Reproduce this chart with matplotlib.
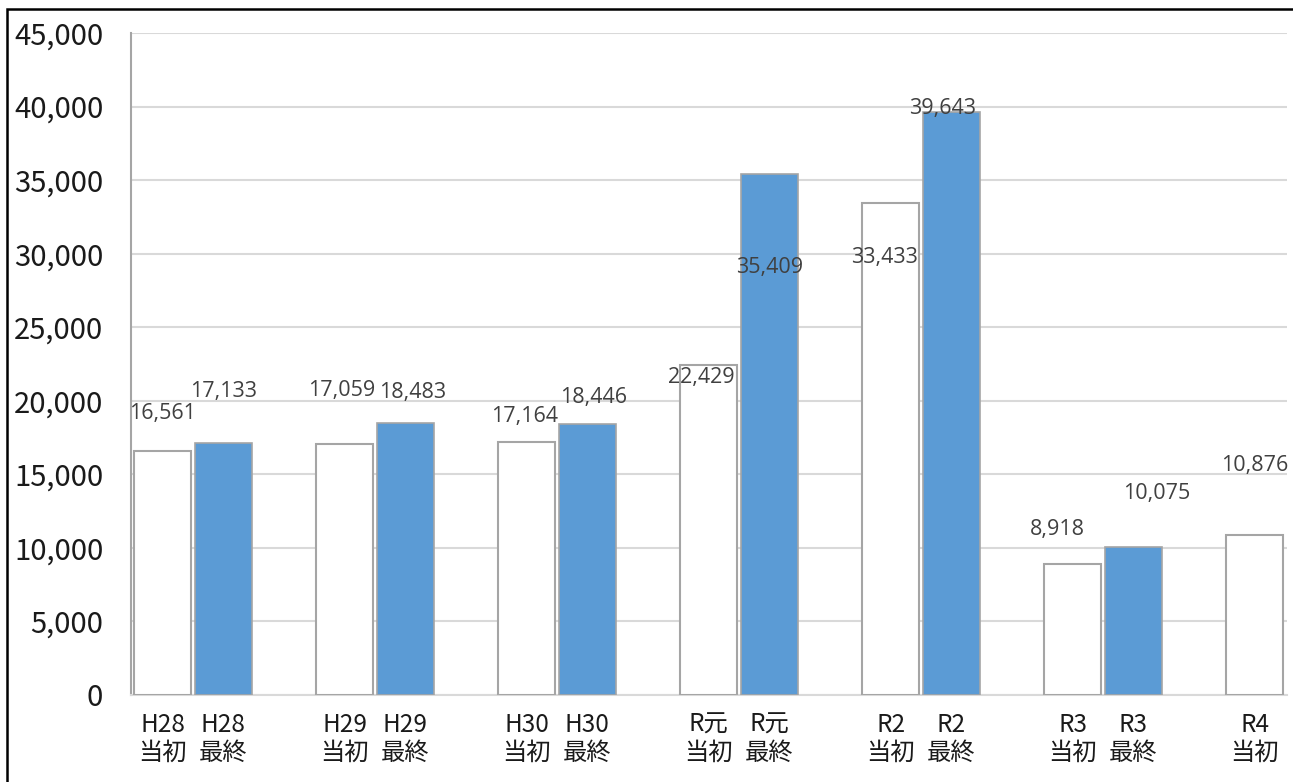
import matplotlib
matplotlib.use("Agg")
import matplotlib.pyplot as plt
from matplotlib.patches import Rectangle

# data
years = ["H28", "H29", "H30", "R元", "R2", "R3", "R4"]
initial = [16561, 17059, 17164, 22429, 33433, 8918, 10876]   # 当初
final = [17133, 18483, 18446, 35409, 39643, 10075, None]     # 最終
yticks = list(range(0, 45001, 5000))

# label offsets in pixels (dx, dy from bar top), hand placed like the original
off_init = [(0, 38), (-3, 54), (-2, 26), (-7, -12), (-6, -54), (-15, 34), (0, 70)]
off_final = [(0, 51), (7, 31), (6, 26), (0, -93), (-9, 3), (23, 53)]

W, H = 1293, 782
fig = plt.figure(figsize=(W / 100, H / 100), dpi=100)
ax = fig.add_axes([131 / W, 87 / H, (1287 - 131) / W, (695 - 33) / H])

jp = ["Noto Sans CJK JP", "DejaVu Sans"]
lab_font = ["Open Sans", "DejaVu Sans"]

xs, xlabels = [], []
for i, y in enumerate(years):
    x0 = 3 * i
    ax.bar(x0, initial[i], width=0.94, color="white", edgecolor="#A5A5A5", linewidth=1.5, zorder=3)
    xs.append(x0)
    xlabels.append(y + "\n当初")
    dx, dy = off_init[i]
    ax.annotate(f"{initial[i]:,}", (x0, initial[i]), xytext=(dx, dy), textcoords="offset pixels",
                ha="center", va="center", fontsize=15.5, color="#404040", family=lab_font, zorder=5)
    if final[i] is not None:
        x1 = x0 + 1
        ax.bar(x1, final[i], width=0.94, color="#5B9BD5", edgecolor="#A5A5A5", linewidth=1.2, zorder=3)
        xs.append(x1)
        xlabels.append(y + "\n最終")
        dx, dy = off_final[i]
        ax.annotate(f"{final[i]:,}", (x1, final[i]), xytext=(dx, dy), textcoords="offset pixels",
                    ha="center", va="center", fontsize=15.5, color="#404040", family=lab_font, zorder=5)

ax.set_xlim(-0.52, 18.53)
ax.set_ylim(0, 45000)
ax.set_yticks(yticks)
ax.set_yticklabels([f"{v:,}" for v in yticks], family=jp, fontsize=21, color="#1a1a1a")
ax.set_xticks(xs)
ax.set_xticklabels(xlabels, family=jp, fontsize=17.5, color="#1a1a1a", linespacing=1.1)
ax.tick_params(axis="both", length=0)
ax.tick_params(axis="y", pad=20)
ax.tick_params(axis="x", pad=12)

ax.grid(axis="y", color="#D9D9D9", linewidth=1.5, zorder=0)
for s in ["top", "right"]:
    ax.spines[s].set_visible(False)
ax.spines["left"].set_color("#A5A5A5")
ax.spines["left"].set_linewidth(1.5)
ax.spines["bottom"].set_color("#D9D9D9")
ax.spines["bottom"].set_linewidth(1.5)

# outer frame
fig.patches.append(Rectangle((7 / W, -0.05), 1.2, 1.05 - 9 / H, transform=fig.transFigure,
                             fill=False, edgecolor="black", linewidth=1.8, clip_on=False))

fig.savefig("out.png", dpi=100)
